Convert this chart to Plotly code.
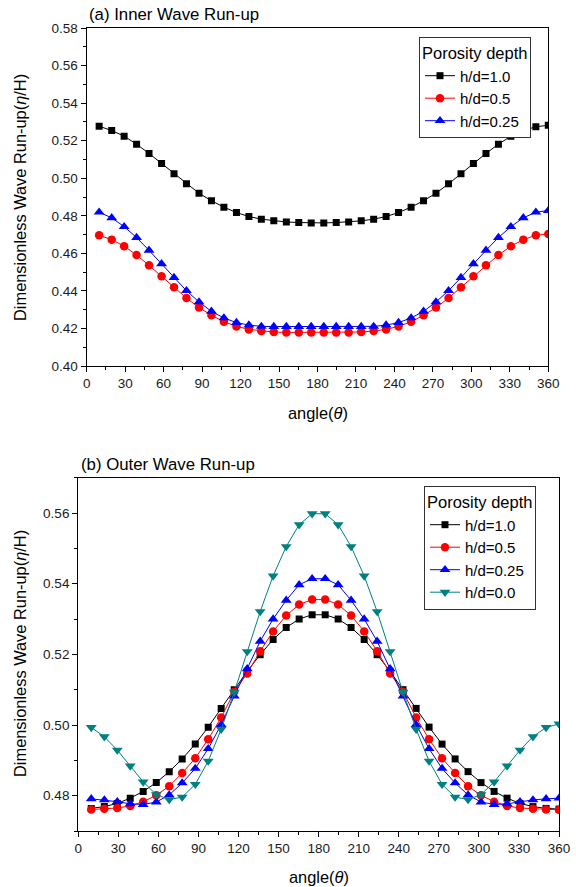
import plotly.graph_objects as go

# ---------------- data ----------------
angles = [9.7, 19.5, 29.2, 38.9, 48.6, 58.4, 68.1, 77.8, 87.6, 97.3, 107.0, 116.8,
          126.5, 136.2, 145.9, 155.7, 165.4, 175.1, 184.9, 194.6, 204.3, 214.1,
          223.8, 233.5, 243.2, 253.0, 262.7, 272.4, 282.2, 291.9, 301.6, 311.4,
          321.1, 330.8, 340.5, 350.3, 360.0]

series_names = ["h/d=1.0", "h/d=0.5", "h/d=0.25", "h/d=0.0"]

inner_h10 = [0.5277, 0.5254, 0.5224, 0.5181, 0.5132, 0.5079, 0.5024, 0.4970, 0.4920,
             0.4880, 0.4846, 0.4817, 0.4796, 0.4782, 0.4773, 0.4767, 0.4764, 0.4762,
             0.4762, 0.4764, 0.4767, 0.4773, 0.4782, 0.4796, 0.4817, 0.4846, 0.4880,
             0.4920, 0.4970, 0.5024, 0.5079, 0.5132, 0.5181, 0.5224, 0.5254, 0.5274,
             0.5282]
inner_h05 = [0.4696, 0.4673, 0.4638, 0.4591, 0.4536, 0.4478, 0.4419, 0.4362, 0.4311,
             0.4270, 0.4236, 0.4211, 0.4195, 0.4186, 0.4181, 0.4179, 0.4179, 0.4179,
             0.4179, 0.4179, 0.4179, 0.4181, 0.4186, 0.4195, 0.4211, 0.4236, 0.4270,
             0.4311, 0.4362, 0.4419, 0.4478, 0.4536, 0.4591, 0.4638, 0.4673, 0.4696,
             0.4703]
inner_h025 = [0.4819, 0.4789, 0.4742, 0.4684, 0.4616, 0.4544, 0.4471, 0.4401, 0.4341,
              0.4291, 0.4256, 0.4231, 0.4218, 0.4211, 0.4210, 0.4210, 0.4210, 0.4210,
              0.4210, 0.4210, 0.4210, 0.4210, 0.4211, 0.4218, 0.4231, 0.4256, 0.4291,
              0.4341, 0.4401, 0.4471, 0.4544, 0.4616, 0.4684, 0.4742, 0.4789, 0.4819,
              0.4828]

outer_h10 = [0.4764, 0.4769, 0.4778, 0.4793, 0.4812, 0.4837, 0.4868, 0.4904, 0.4946,
             0.4994, 0.5047, 0.5100, 0.5152, 0.5199, 0.5242, 0.5276, 0.5300, 0.5312,
             0.5312, 0.5300, 0.5276, 0.5242, 0.5199, 0.5152, 0.5100, 0.5047, 0.4994,
             0.4946, 0.4904, 0.4868, 0.4837, 0.4812, 0.4793, 0.4778, 0.4769, 0.4764,
             0.4762]
outer_h05 = [0.4761, 0.4763, 0.4765, 0.4771, 0.4783, 0.4801, 0.4827, 0.4864, 0.4906,
             0.4960, 0.5021, 0.5094, 0.5146, 0.5209, 0.5265, 0.5310, 0.5341, 0.5355,
             0.5355, 0.5341, 0.5310, 0.5265, 0.5209, 0.5146, 0.5094, 0.5021, 0.4960,
             0.4906, 0.4864, 0.4827, 0.4801, 0.4783, 0.4771, 0.4765, 0.4763, 0.4761,
             0.4760]
outer_h025 = [0.4791, 0.4788, 0.4783, 0.4777, 0.4775, 0.4782, 0.4802, 0.4836, 0.4877,
              0.4933, 0.5001, 0.5082, 0.5159, 0.5237, 0.5300, 0.5353, 0.5397, 0.5414,
              0.5414, 0.5397, 0.5353, 0.5300, 0.5237, 0.5159, 0.5082, 0.5001, 0.4933,
              0.4877, 0.4836, 0.4802, 0.4782, 0.4775, 0.4777, 0.4783, 0.4788, 0.4791,
              0.4793]
outer_h00 = [0.4993, 0.4967, 0.4929, 0.4884, 0.4839, 0.4803, 0.4789, 0.4796, 0.4832,
             0.4898, 0.4988, 0.5093, 0.5208, 0.5321, 0.5422, 0.5505, 0.5567, 0.5598,
             0.5598, 0.5567, 0.5505, 0.5422, 0.5321, 0.5208, 0.5093, 0.4988, 0.4898,
             0.4832, 0.4796, 0.4789, 0.4803, 0.4839, 0.4884, 0.4929, 0.4967, 0.4993,
             0.5003]

x_ticks = [0, 30, 60, 90, 120, 150, 180, 210, 240, 270, 300, 330, 360]
inner_yticks = [0.40, 0.42, 0.44, 0.46, 0.48, 0.50, 0.52, 0.54, 0.56, 0.58]
outer_yticks = [0.48, 0.50, 0.52, 0.54, 0.56]

# ---------------- styling ----------------
FONT = "Liberation Sans, Arial, sans-serif"
colors = ["#000000", "#ff0000", "#0000ff", "#008080"]
symbols = ["square", "circle", "triangle-up", "triangle-down"]
msizes = [7, 8.5, 9.5, 9.5]

fig = go.Figure()

inner = [inner_h10, inner_h05, inner_h025]
outer = [outer_h10, outer_h05, outer_h025, outer_h00]

for i, ys in enumerate(inner):
    fig.add_trace(go.Scatter(
        x=angles, y=ys, mode="lines+markers", name=series_names[i],
        line=dict(color=colors[i], width=1),
        marker=dict(symbol=symbols[i], size=msizes[i], color=colors[i]),
        xaxis="x", yaxis="y", legend="legend"))

for i, ys in enumerate(outer):
    fig.add_trace(go.Scatter(
        x=angles, y=ys, mode="lines+markers", name=series_names[i],
        line=dict(color=colors[i], width=1),
        marker=dict(symbol=symbols[i], size=msizes[i], color=colors[i]),
        xaxis="x2", yaxis="y2", legend="legend2"))

W, H = 576, 887
def px_x(p):
    return p / W
def px_y(p):
    return 1 - p / H

top_xdom = [px_x(86.7), px_x(548.3)]
top_ydom = [px_y(366), px_y(28)]
bot_xdom = [px_x(78.3), px_x(559)]
bot_ydom = [px_y(831), px_y(477.7)]

tickfont = dict(family=FONT, size=13.5, color="#1a1a1a")

def main_x(dom, anchor):
    return dict(domain=dom, anchor=anchor, range=[0, 360], tickvals=x_ticks,
                ticks="outside", ticklen=5, tickwidth=1.2, tickcolor="#000",
                showline=True, linecolor="#000", linewidth=1.4, mirror=True,
                showgrid=False, zeroline=False, tickfont=tickfont, automargin=False,
                minor=dict(dtick=15, tick0=0, ticks="outside", ticklen=3,
                           tickwidth=1, tickcolor="#000", showgrid=False))

def main_y(dom, anchor, rng, tv):
    return dict(domain=dom, anchor=anchor, range=rng, tickvals=tv,
                ticktext=["%.2f" % v for v in tv],
                ticks="outside", ticklen=5, tickwidth=1.2, tickcolor="#000",
                showline=True, linecolor="#000", linewidth=1.4, mirror=True,
                showgrid=False, zeroline=False, tickfont=tickfont, automargin=False,
                minor=dict(dtick=0.01, tick0=0, ticks="outside", ticklen=3,
                           tickwidth=1, tickcolor="#000", showgrid=False))

def over_x(over, anchor):
    return dict(overlaying=over, anchor=anchor, side="top", range=[0, 360],
                tickvals=x_ticks, ticks="inside", ticklen=5, tickwidth=1.2,
                tickcolor="#000", showticklabels=False, showline=False,
                showgrid=False, zeroline=False, automargin=False,
                minor=dict(dtick=15, tick0=0, ticks="inside", ticklen=3,
                           tickwidth=1, tickcolor="#000", showgrid=False))

def over_y(over, anchor, rng, tv):
    return dict(overlaying=over, anchor=anchor, side="right", range=rng,
                tickvals=tv, ticks="inside", ticklen=5, tickwidth=1.2,
                tickcolor="#000", showticklabels=False, showline=False,
                showgrid=False, zeroline=False, automargin=False,
                minor=dict(dtick=0.01, tick0=0, ticks="inside", ticklen=3,
                           tickwidth=1, tickcolor="#000", showgrid=False))

legend_common = dict(
    bgcolor="white", bordercolor="#333", borderwidth=1,
    font=dict(family=FONT, size=15, color="#000"),
    title=dict(text="Porosity depth", font=dict(family=FONT, size=16.5, color="#000")),
    xanchor="left", yanchor="top", itemwidth=30, tracegroupgap=0,
)

fig.update_layout(
    width=W, height=H, template="none",
    margin=dict(l=0, r=0, t=0, b=0),
    paper_bgcolor="white", plot_bgcolor="white",
    font=dict(family=FONT, size=13, color="#000"),
    xaxis=main_x(top_xdom, "y"),
    yaxis=main_y(top_ydom, "x", [0.40, 0.58], inner_yticks),
    xaxis2=main_x(bot_xdom, "y2"),
    yaxis2=main_y(bot_ydom, "x2", [0.47, 0.57], outer_yticks),
    xaxis3=over_x("x", "y"),
    yaxis3=over_y("y", "x", [0.40, 0.58], inner_yticks),
    xaxis4=over_x("x2", "y2"),
    yaxis4=over_y("y2", "x2", [0.47, 0.57], outer_yticks),
    legend=dict(x=px_x(419), y=px_y(37), **legend_common),
    legend2=dict(x=px_x(424), y=px_y(486), **legend_common),
    showlegend=True,
)

ann_font = dict(family=FONT, size=16.8, color="#000")
title_font = dict(family=FONT, size=16.4, color="#000")
ytitle = "Dimensionless Wave Run-up(<i>η</i>/H)"
xtitle = "angle(<i>θ</i>)"
annotations = [
    dict(text="(a) Inner Wave Run-up", x=px_x(87), y=px_y(15), xanchor="left",
         yanchor="middle", font=ann_font),
    dict(text="(b) Outer Wave Run-up", x=px_x(79), y=px_y(464), xanchor="left",
         yanchor="middle", font=ann_font),
    dict(text=ytitle, x=px_x(20), y=px_y(198), textangle=-90, xanchor="center",
         yanchor="middle", font=title_font),
    dict(text=ytitle, x=px_x(20), y=px_y(654), textangle=-90, xanchor="center",
         yanchor="middle", font=title_font),
    dict(text=xtitle, x=px_x(317.5), y=px_y(413), xanchor="center",
         yanchor="middle", font=title_font),
    dict(text=xtitle, x=px_x(318.6), y=px_y(877), xanchor="center",
         yanchor="middle", font=title_font),
]
for a in annotations:
    a.update(xref="paper", yref="paper", showarrow=False)
fig.update_layout(annotations=annotations)

fig.write_html("out.html")
